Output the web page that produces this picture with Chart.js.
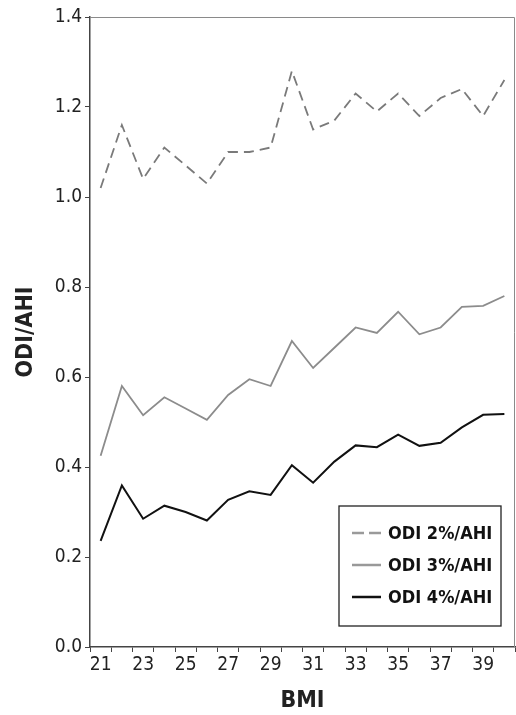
<!DOCTYPE html>
<html>
<head>
<meta charset="utf-8">
<script src="https://cdn.jsdelivr.net/npm/chart.js@4"></script>
<style>
  html, body { margin: 0; padding: 0; background: #fff; }
  #wrap { width: 516px; height: 715px; }
</style>
</head>
<body>
<div id="wrap"><canvas id="chart" width="516" height="715"></canvas></div>
<script>
// BMI categories and the three ratio series
const bmi = [21, 22, 23, 24, 25, 26, 27, 28, 29, 30, 31, 32, 33, 34, 35, 36, 37, 38, 39, 40];
const odi2 = [1.02, 1.16, 1.04, 1.11, 1.07, 1.03, 1.10, 1.10, 1.11, 1.28, 1.15, 1.17, 1.23, 1.19, 1.23, 1.18, 1.22, 1.24, 1.18, 1.26];
const odi3 = [0.425, 0.58, 0.515, 0.555, 0.53, 0.505, 0.56, 0.595, 0.58, 0.68, 0.62, 0.665, 0.71, 0.698, 0.745, 0.695, 0.71, 0.756, 0.758, 0.78];
const odi4 = [0.236, 0.359, 0.285, 0.314, 0.30, 0.281, 0.327, 0.346, 0.338, 0.404, 0.365, 0.412, 0.448, 0.444, 0.472, 0.447, 0.454, 0.488, 0.516, 0.518];
const seriesNames = ['ODI 2%/AHI', 'ODI 3%/AHI', 'ODI 4%/AHI'];

const narrow = "'Liberation Sans Narrow', 'DejaVu Sans Condensed', 'Liberation Sans', Arial, sans-serif";

// top/right frame of the plot box
const framePlugin = {
  id: 'frame',
  beforeDatasetsDraw(chart) {
    const { ctx, chartArea: a } = chart;
    ctx.save();
    ctx.strokeStyle = '#8a8a8a';
    ctx.lineWidth = 1;
    ctx.beginPath();
    ctx.moveTo(a.left, a.top + 0.5);
    ctx.lineTo(a.right - 0.5, a.top + 0.5);
    ctx.lineTo(a.right - 0.5, a.bottom);
    ctx.stroke();
    ctx.restore();
  }
};

// boxed legend in the lower right of the plot
const boxLegend = {
  id: 'boxLegend',
  afterDraw(chart) {
    const { ctx, chartArea: a } = chart;
    const w = 162, h = 120;
    const x = a.right - 14 - w, y = a.bottom - 21 - h;
    ctx.save();
    ctx.fillStyle = '#fff';
    ctx.fillRect(x, y, w, h);
    ctx.strokeStyle = '#222';
    ctx.lineWidth = 1.3;
    ctx.strokeRect(x, y, w, h);
    chart.data.datasets.forEach((ds, i) => {
      const ry = y + 27 + i * 32;
      ctx.strokeStyle = ds.legendColor || ds.borderColor;
      ctx.lineWidth = 2.5;
      ctx.setLineDash(ds.borderDash ? [12, 5] : []);
      ctx.beginPath();
      ctx.moveTo(x + 13, ry);
      ctx.lineTo(x + 42, ry);
      ctx.stroke();
      ctx.setLineDash([]);
      ctx.fillStyle = '#111';
      ctx.font = "bold 18px " + narrow;
      ctx.textBaseline = 'middle';
      ctx.fillText(ds.label, x + 49, ry + 1);
    });
    ctx.restore();
  }
};

new Chart(document.getElementById('chart'), {
  type: 'line',
  data: {
    labels: bmi,
    datasets: [
      { label: seriesNames[0], data: odi2, borderColor: '#7a7a7a', legendColor: '#9a9a9a', borderWidth: 1.8, borderDash: [10, 6], pointRadius: 0, tension: 0 },
      { label: seriesNames[1], data: odi3, borderColor: '#8c8c8c', legendColor: '#999', borderWidth: 1.8, pointRadius: 0, tension: 0 },
      { label: seriesNames[2], data: odi4, borderColor: '#111', borderWidth: 2, pointRadius: 0, tension: 0 }
    ]
  },
  options: {
    responsive: false,
    animation: false,
    devicePixelRatio: 1,
    layout: { padding: { top: 17, right: 1, left: 12, bottom: 0 } },
    plugins: { legend: { display: false }, tooltip: { enabled: false } },
    scales: {
      x: {
        type: 'category',
        offset: true,
        border: { color: '#444', width: 1.5 },
        grid: { offset: true, drawOnChartArea: false, drawTicks: true, tickLength: 5, color: '#444' },
        ticks: {
          autoSkip: false,
          maxRotation: 0,
          padding: 2,
          color: '#222',
          font: { family: narrow, size: 19 },
          callback: function (v, i) { return i % 2 === 0 ? this.getLabelForValue(v) : ''; }
        },
        title: { display: true, text: 'BMI', color: '#222', font: { family: narrow, size: 23, weight: 'bold' }, padding: { top: 10, bottom: 0 } },
        afterFit: s => { s.height = 68; }
      },
      y: {
        min: 0,
        max: 1.4,
        border: { color: '#444', width: 1.5 },
        grid: { drawOnChartArea: false, drawTicks: true, tickLength: 5, color: '#444' },
        ticks: {
          stepSize: 0.2,
          padding: 3,
          color: '#222',
          font: { family: narrow, size: 19 },
          callback: v => v.toFixed(1)
        },
        title: { display: true, text: 'ODI/AHI', color: '#222', font: { family: narrow, size: 23, weight: 'bold' }, padding: { top: 0, bottom: 8 } },
        afterFit: s => { s.width = 78; }
      }
    }
  },
  plugins: [framePlugin, boxLegend]
});
</script>
</body>
</html>
